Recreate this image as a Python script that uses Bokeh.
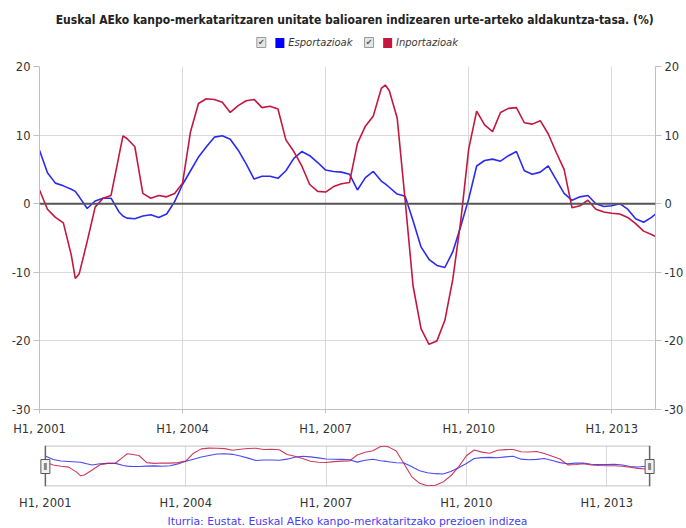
import numpy as np
from bokeh.plotting import figure
from bokeh.layouts import column
from bokeh.models import ColumnDataSource, Range1d, LinearAxis, FixedTicker, Span, Title
from bokeh.embed import file_html
from bokeh.resources import INLINE
from bokeh.core.properties import value

# ---------------- data (month index from Jan 2001) ----------------
months = [0, 2, 4, 6, 8, 9, 10, 12, 14, 16, 18, 20, 21, 22, 24, 26, 28, 30, 32, 34,
          36, 38, 40, 42, 44, 46, 48, 50, 52, 54, 56, 58, 60, 62, 64, 66, 68, 70, 72, 74,
          76, 78, 80, 82, 84, 86, 87, 88, 90, 92, 94, 96, 98, 100, 102, 104, 106, 108, 110, 112,
          114, 116, 118, 120, 122, 124, 126, 128, 130, 132, 134, 136, 138, 140, 142, 144, 146, 148, 150, 152,
          154, 155]
esportazioak = [7.8, 4.5, 3.0, 2.6, 2.1, 1.8, 1.0, -0.7, 0.4, 0.8, 0.8, -1.2, -1.8, -2.1, -2.2, -1.8, -1.6, -2.0, -1.5, 0.3,
                2.8, 4.8, 6.8, 8.3, 9.7, 9.9, 9.4, 7.8, 5.8, 3.6, 4.0, 4.0, 3.7, 4.8, 6.6, 7.6, 7.0, 6.0, 4.9, 4.7,
                4.6, 4.3, 2.0, 3.8, 4.7, 3.3, 2.9, 2.4, 1.4, 1.1, -2.5, -6.3, -8.1, -9.0, -9.3, -7.0, -3.3, 0.7, 5.5, 6.3,
                6.5, 6.2, 7.0, 7.6, 4.8, 4.3, 4.6, 5.5, 3.5, 1.5, 0.5, 1.0, 1.2, 0.0, -0.4, -0.3, 0.0, -0.8, -2.2, -2.7,
                -2.0, -1.5]
inportazioak = [2.0, -0.8, -2.0, -2.8, -7.5, -10.9, -10.2, -5.5, -0.5, 0.8, 1.2, 7.0, 9.9, 9.5, 8.3, 1.5, 0.8, 1.2, 1.0, 1.5,
                3.0, 10.5, 14.6, 15.3, 15.2, 14.8, 13.3, 14.3, 15.0, 15.2, 14.0, 14.2, 13.8, 9.3, 7.6, 5.5, 2.8, 1.8, 1.7, 2.5,
                2.9, 3.1, 8.8, 11.3, 12.8, 16.8, 17.3, 16.5, 12.5, 0.5, -12.0, -18.2, -20.5, -20.0, -17.0, -11.0, -2.5, 8.0, 13.5, 11.5,
                10.5, 13.3, 13.9, 14.0, 11.8, 11.6, 12.1, 10.2, 7.5, 5.0, -0.6, -0.3, 0.5, -0.8, -1.2, -1.4, -1.5, -2.0, -2.9, -4.0,
                -4.5, -4.8]
x_ticks = [2001, 2004, 2007, 2010, 2013]
x_tick_labels = ["H1, 2001", "H1, 2004", "H1, 2007", "H1, 2010", "H1, 2013"]
y_ticks = [-30, -20, -10, 0, 10, 20]
y_tick_labels = ["-30", "-20", "-10", "0", "10", "20"]

series_names = ["Esportazioak", "Inportazioak"]
title_text = "Euskal AEko kanpo-merkataritzaren unitate balioaren indizearen urte-arteko aldakuntza-tasa. (%)"
footer_text = "Iturria: Eustat. Euskal AEko kanpo-merkataritzako prezioen indizea"

x_vals = [2001 + m / 12.0 for m in months]
src = ColumnDataSource(dict(x=x_vals, exp=esportazioak, imp=inportazioak))

W = 686
FONT = "DejaVu Sans"
BLUE = "#2A2AF2"
RED = "#C4173F"
GRID = "#D9D9D9"
AXC = "#C0C0C0"
LBL = "#333333"
xmin, xmax = 2001.0, 2001 + 155 / 12.0
x_over = {t: l for t, l in zip(x_ticks, x_tick_labels)}
y_over = {t: l for t, l in zip(y_ticks, y_tick_labels)}

# ---------------- header (title + legend) ----------------
HH = 58
hdr = figure(width=W, height=HH, x_range=Range1d(0, W), y_range=Range1d(0, HH),
             output_backend="svg", toolbar_location=None, min_border=0)
hdr.axis.visible = False
hdr.grid.visible = False
hdr.outline_line_color = None
hdr.text(x=[351], y=[HH - 19.5], text=[title_text],
         text_font=value("DejaVu Sans Condensed, Liberation Sans"), text_font_style="bold",
         text_font_size="12px", text_color="#222222", text_align="center", text_baseline="middle")
# checkboxes
hdr.rect(x=[247, 367], y=[HH - 42, HH - 42], width=10, height=10, fill_color="#E6E6E6",
         line_color="#9A9A9A", line_width=1)
hdr.text(x=[247, 367], y=[HH - 42, HH - 42], text=["\u2714", "\u2714"], text_font=value(FONT),
         text_font_size="8px", text_color="#555555", text_align="center", text_baseline="middle")
# colour squares
hdr.rect(x=[267.7, 387.7], y=[HH - 42.5, HH - 42.5], width=10, height=10, fill_color=["#0000FF", RED],
         line_color=None)
hdr.text(x=[277, 397], y=[HH - 42, HH - 42], text=series_names, text_font=value(FONT), text_font_style="italic",
         text_font_size="10px", text_color="#3A3A3A", text_align="left", text_baseline="middle")

# ---------------- main chart ----------------
p = figure(width=W, height=380, x_range=Range1d(xmin, xmax), y_range=Range1d(-30, 20),
           output_backend="svg", toolbar_location=None,
           min_border_top=8, min_border_left=39, min_border_right=30, min_border_bottom=28)
p.outline_line_color = None
p.xaxis.ticker = FixedTicker(ticks=x_ticks)
p.xaxis.major_label_overrides = x_over
p.yaxis.ticker = FixedTicker(ticks=y_ticks)
p.yaxis.major_label_overrides = y_over
ra = LinearAxis(ticker=FixedTicker(ticks=y_ticks), major_label_overrides=y_over)
p.add_layout(ra, "right")
for ax in p.axis:
    ax.axis_line_color = AXC
    ax.major_tick_line_color = AXC
    ax.minor_tick_line_color = None
    ax.major_tick_in = 0
    ax.major_tick_out = 6
    ax.major_label_text_font = FONT
    ax.major_label_text_font_size = "11.5px"
    ax.major_label_text_color = LBL
    ax.major_label_standoff = 3
p.xaxis.major_tick_out = 4
p.xaxis.major_label_standoff = 8
p.xgrid.ticker = FixedTicker(ticks=x_ticks)
p.ygrid.ticker = FixedTicker(ticks=y_ticks)
p.grid.grid_line_color = GRID
p.add_layout(Span(location=0, dimension="width", line_color="#555555", line_width=2))
p.line("x", "exp", source=src, line_color=BLUE, line_width=1.6)
p.line("x", "imp", source=src, line_color=RED, line_width=1.6)

# ---------------- navigator ----------------
ext = 6 * (xmax - xmin) / 617.0
ny0, ny1 = -21.2, 17.8
nav = figure(width=W, height=90, x_range=Range1d(xmin - ext, xmax + ext), y_range=Range1d(ny0, ny1),
             output_backend="svg", toolbar_location=None,
             min_border_top=7, min_border_left=33, min_border_right=24, min_border_bottom=10)
nav.outline_line_color = None
nav.yaxis.visible = False
nav.ygrid.visible = False
nav.xaxis.ticker = FixedTicker(ticks=x_ticks)
nav.xaxis.major_label_overrides = x_over
nav.xaxis.axis_line_color = None
nav.xaxis.major_tick_line_color = None
nav.xaxis.minor_tick_line_color = None
nav.xaxis.major_label_text_font = FONT
nav.xaxis.major_label_text_font_size = "11.5px"
nav.xaxis.major_label_text_color = LBL
nav.xaxis.major_label_standoff = 3
nav.xgrid.ticker = FixedTicker(ticks=x_ticks)
nav.xgrid.grid_line_color = GRID
nav.segment(x0=[xmin, xmin], y0=[ny0 + 0.3, ny1 - 0.3], x1=[xmax, xmax], y1=[ny0 + 0.3, ny1 - 0.3],
            line_color="#CFCFCF", line_width=2)
nav.line("x", "exp", source=src, line_color=BLUE, line_width=1.1, line_alpha=0.85)
nav.line("x", "imp", source=src, line_color=RED, line_width=1.1, line_alpha=0.85)
nav.segment(x0=[xmin, xmax], y0=[ny0, ny0], x1=[xmin, xmax], y1=[ny1, ny1], line_color="#666666", line_width=1.5)
hy = (ny0 + ny1) / 2 - 0.5
nav.rect(x=[xmin, xmax], y=[hy, hy], width=9, height=14, width_units="screen", height_units="screen",
         fill_color="#F2F2F2", line_color="#555555", line_width=1)
nav.rect(x=[xmin, xmax], y=[hy, hy], width=3, height=7, width_units="screen", height_units="screen",
         fill_color="#888888", line_color=None)
nav.add_layout(Title(text=footer_text, align="center", text_font=FONT, text_font_size="10.8px",
                     text_font_style="normal", text_color="#4A3CF5", standoff=1, offset=7), "below")

layout = column(hdr, p, nav, spacing=0)
open("out.html", "w").write(file_html(layout, INLINE))
